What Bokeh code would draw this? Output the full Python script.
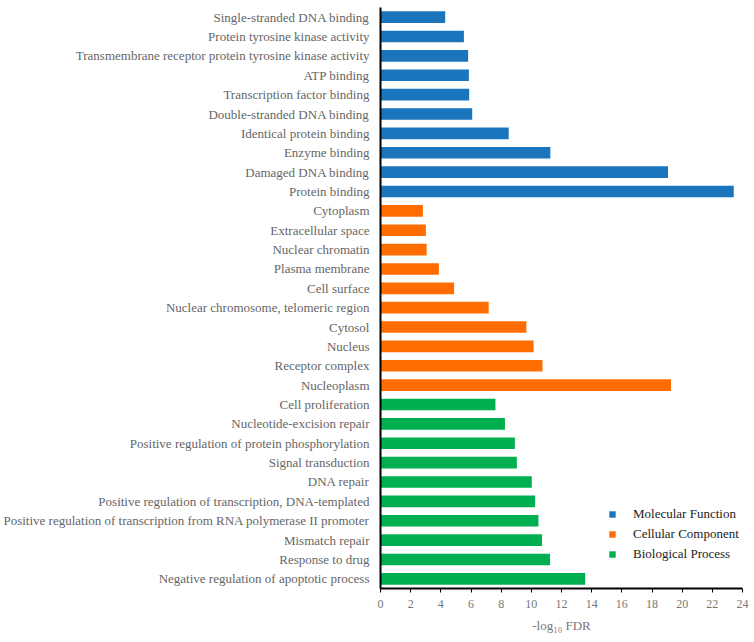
from bokeh.plotting import figure
from bokeh.models import FactorRange, Range1d, ColumnDataSource, Legend, LegendItem, FixedTicker
from bokeh.embed import file_html
from bokeh.resources import INLINE

mf_terms = ["Single-stranded DNA binding", "Protein tyrosine kinase activity",
            "Transmembrane receptor protein tyrosine kinase activity", "ATP binding",
            "Transcription factor binding", "Double-stranded DNA binding",
            "Identical protein binding", "Enzyme binding", "Damaged DNA binding",
            "Protein binding"]
mf_values = [4.29, 5.53, 5.81, 5.86, 5.88, 6.08, 8.50, 11.26, 19.06, 23.42]

cc_terms = ["Cytoplasm", "Extracellular space", "Nuclear chromatin", "Plasma membrane",
            "Cell surface", "Nuclear chromosome, telomeric region", "Cytosol", "Nucleus",
            "Receptor complex", "Nucleoplasm"]
cc_values = [2.81, 3.01, 3.06, 3.87, 4.88, 7.17, 9.67, 10.15, 10.74, 19.26]

bp_terms = ["Cell proliferation", "Nucleotide-excision repair",
            "Positive regulation of protein phosphorylation", "Signal transduction",
            "DNA repair", "Positive regulation of transcription, DNA-templated",
            "Positive regulation of transcription from RNA polymerase II promoter",
            "Mismatch repair", "Response to drug", "Negative regulation of apoptotic process"]
bp_values = [7.62, 8.25, 8.91, 9.04, 10.03, 10.25, 10.47, 10.71, 11.24, 13.57]

group_names = ["Molecular Function", "Cellular Component", "Biological Process"]
group_colors = ["#1b75bc", "#ff6d00", "#00b050"]
x_ticks = list(range(0, 25, 2))

all_terms = mf_terms + cc_terms + bp_terms

p = figure(width=754, height=642, output_backend="svg", toolbar_location=None,
           y_range=FactorRange(*reversed(all_terms), range_padding=0),
           x_range=Range1d(0, 24),
           min_border_left=378, min_border_right=12, min_border_top=7, min_border_bottom=54)

renderers = []
for terms, vals, col in zip([mf_terms, cc_terms, bp_terms], [mf_values, cc_values, bp_values], group_colors):
    src = ColumnDataSource(dict(y=terms, right=vals))
    r = p.hbar(y="y", left=0, right="right", height=0.6, source=src,
               fill_color=col, line_color=None)
    renderers.append(r)

p.xgrid.visible = False
p.ygrid.visible = False
p.outline_line_color = None
p.background_fill_color = "white"

fontname = "Liberation Serif"
xa = p.xaxis[0]
xa.ticker = FixedTicker(ticks=x_ticks)
xa.axis_line_width = 2
xa.axis_line_color = "black"
xa.major_tick_out = 4
xa.major_tick_in = 0
xa.minor_tick_line_color = None
xa.major_label_text_font = fontname
xa.major_label_text_font_size = "12px"
xa.major_label_text_color = "#777777"
xa.major_label_standoff = 7
xa.axis_label = "-log\u2081\u2080 FDR"
xa.axis_label_text_font = fontname
xa.axis_label_text_font_size = "13px"
xa.axis_label_text_font_style = "normal"
xa.axis_label_text_color = "#777777"
xa.axis_label_standoff = 7

ya = p.yaxis[0]
ya.axis_line_width = 2
ya.axis_line_color = "black"
ya.major_tick_line_color = None
ya.major_tick_out = 0
ya.major_tick_in = 0
ya.minor_tick_line_color = None
ya.major_label_text_font = fontname
ya.major_label_text_font_size = "13px"
ya.major_label_text_color = "#666666"
ya.major_label_standoff = 11

legend = Legend(items=[LegendItem(label=n, renderers=[r]) for n, r in zip(group_names, renderers)],
                location=(228, 26), padding=0, margin=0, spacing=4,
                glyph_width=8, glyph_height=8, label_height=14, label_standoff=17,
                border_line_color=None, background_fill_alpha=0,
                label_text_font=fontname, label_text_font_size="13px",
                label_text_color="#222222")
p.add_layout(legend)

open("out.html", "w").write(file_html(p, INLINE))
